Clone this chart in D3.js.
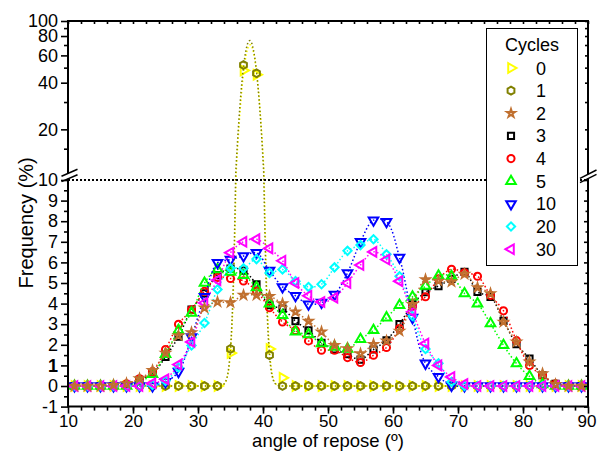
<!DOCTYPE html>
<html lang="en">
<head>
<meta charset="UTF-8">
<title>Angle of repose</title>
<script src="https://d3js.org/d3.v7.min.js"></script>
<style>
    body { margin: 0; background: #fff; }
    svg text { font-family: "Liberation Sans", Arial, sans-serif; fill: #000; }
</style>
</head>
<body>
<div id="chart"></div>
<script>
// angle bins (deg) and frequency (%) for each number of cycles
const angles = [11, 13, 15, 17, 19, 21, 23, 25, 27, 29, 31, 33, 35, 37, 39, 41, 43, 45, 47, 49,
                51, 53, 55, 57, 59, 61, 63, 65, 67, 69, 71, 73, 75, 77, 79, 81, 83, 85, 87, 89];
const cycleLabels = ['0', '1', '2', '3', '4', '5', '10', '20', '30'];

const freq0  = [0, 0, 0, 0, 0, 0, 0, 0, 0, 0, 0, 0, 1.6, 48, 45, 1.8, 0.4, 0, 0, 0,
                0, 0, 0, 0, 0, 0, 0, 0, 0, 0, 0, 0, 0, 0, 0, 0, 0, 0, 0, 0];
const freq1  = [0, 0, 0, 0, 0, 0, 0, 0, 0, 0, 0, 0, 1.8, 52, 46, 1.5, 0, 0, 0, 0,
                0, 0, 0, 0, 0, 0, 0, 0, 0, 0, 0, 0, 0, 0, 0, 0, 0, 0, 0, 0];
const freq2  = [0, 0, 0, 0.05, 0.12, 0.36, 0.76, 1.6, 2.45, 2.6, 3.79, 4.08, 4.05, 4.41, 4.41, 4.36, 4.0, 3.6, 3.15, 2.63,
                1.98, 1.82, 1.57, 2.03, 2.19, 2.67, 3.97, 5.17, 5.1, 5.06, 5.43, 4.78, 4.49, 3.11, 2.14, 1.17, 0.6, 0.08, 0, 0];
const freq3  = [0, 0, 0, 0, 0.05, 0.3, 0.6, 1.41, 2.4, 3.71, 4.5, 5.38, 5.7, 5.6, 4.93, 3.92, 3.76, 3.15, 2.7, 2.1,
                1.77, 1.54, 1.28, 1.77, 2.22, 3.0, 3.97, 4.55, 4.85, 5.2, 5.54, 4.57, 4.33, 3.16, 2.03, 1.33, 0.52, 0.1, 0, 0];
const freq4  = [0, 0, 0, 0, 0.1, 0.35, 0.7, 1.77, 3.0, 3.7, 4.6, 5.27, 5.22, 5.1, 4.6, 3.8, 3.11, 2.7, 2.19, 1.74,
                1.74, 1.38, 1.14, 1.49, 1.87, 2.79, 3.87, 4.33, 5.2, 5.67, 5.5, 5.33, 4.4, 3.65, 2.2, 1.0, 0.52, 0.1, 0, 0];
const freq5  = [0, 0, 0, 0, 0, 0.2, 0.57, 1.54, 2.7, 3.55, 5.0, 5.66, 5.54, 5.38, 4.78, 4.0, 3.43, 2.63, 2.5, 2.06,
                1.9, 1.8, 2.27, 2.71, 3.32, 3.92, 4.33, 4.85, 5.35, 5.33, 4.49, 4.0, 3.03, 1.98, 1.09, 0.47, 0.08, 0, 0, 0];
const freq10 = [0, 0, 0, 0, 0, 0, 0, 0.2, 0.7, 2.38, 4.33, 5.98, 6.14, 6.31, 6.47, 5.6, 4.81, 4.38, 3.97, 4.05,
                4.44, 5.49, 7.0, 8.05, 7.97, 6.24, 3.32, 1.1, 0.45, 0.03, 0, 0, 0, 0, 0, 0, 0, 0, 0, 0];
const freq20 = [0, 0, 0, 0, 0, 0, 0.05, 0.25, 0.9, 1.97, 3.06, 4.69, 5.71, 5.71, 6.16, 5.49, 5.66, 5.09, 4.81, 4.94,
                5.76, 6.56, 6.84, 7.12, 6.39, 5.33, 3.4, 1.8, 1.1, 0.2, 0, 0, 0, 0, 0, 0, 0, 0, 0, 0];
const freq30 = [0, 0, 0, 0, 0, 0, 0.13, 0.33, 1.04, 2.14, 4.03, 5.14, 6.47, 7.0, 7.13, 6.68, 6.08, 5.0, 4.38, 4.08,
                4.28, 5.0, 5.87, 6.51, 6.14, 5.09, 3.6, 2.06, 1.0, 0.44, 0.1, 0, 0, 0, 0, 0, 0, 0, 0, 0];

const xTicks = [10, 20, 30, 40, 50, 60, 70, 80, 90];
const yTicksLow = [-1, 0, 1, 2, 3, 4, 5, 6, 7, 8, 9, 10];
const yTicksHigh = [20, 40, 60, 80, 100];
const yMinorHigh = [15, 30, 50, 70, 90];

const width = 597, height = 451;
const plotLeft = 68, plotRight = 588, plotTop = 21, plotBottom = 406.6;

const svg = d3.select('#chart').append('svg')
    .attr('width', width)
    .attr('height', height);

// broken y axis: linear below 10, log above
const x = d3.scaleLinear().domain([10, 90]).range([plotLeft, plotRight]);
const yLow = d3.scaleLinear().domain([-1, 10]).range([plotBottom, 180]);
const yHigh = d3.scaleLog().domain([10, 100]).range([176, plotTop]);
const y = v => v > 10 ? yHigh(v) : yLow(v);

// custom hexagon symbol
const symbolHexagon = {
    draw(ctx, size) {
        const r = Math.sqrt(size / 2.598);
        for (let i = 0; i < 6; i++) {
            const a = Math.PI / 3 * i - Math.PI / 2;
            if (i === 0) ctx.moveTo(r * Math.cos(a), r * Math.sin(a));
            else ctx.lineTo(r * Math.cos(a), r * Math.sin(a));
        }
        ctx.closePath();
    }
};

const shapes = {
    triR:    {type: d3.symbolTriangle, rot: 90,  size: 40},
    hex:     {type: symbolHexagon,     rot: 0,   size: 40},
    star:    {type: d3.symbolStar,     rot: 0,   size: 20},
    square:  {type: d3.symbolSquare,   rot: 0,   size: 38},
    circle:  {type: d3.symbolCircle,   rot: 0,   size: 40},
    triU:    {type: d3.symbolTriangle, rot: 0,   size: 40},
    triD:    {type: d3.symbolTriangle, rot: 180, size: 40},
    diamond: {type: d3.symbolSquare,   rot: 45,  size: 34},
    triL:    {type: d3.symbolTriangle, rot: -90, size: 40}
};

const series = [
    {label: cycleLabels[0], values: freq0,  color: '#ffff00', shape: 'triR',    fit: true},
    {label: cycleLabels[1], values: freq1,  color: '#808000', shape: 'hex',     fit: true},
    {label: cycleLabels[2], values: freq2,  color: '#c0702f', shape: 'star'},
    {label: cycleLabels[3], values: freq3,  color: '#000000', shape: 'square'},
    {label: cycleLabels[4], values: freq4,  color: '#ff0000', shape: 'circle'},
    {label: cycleLabels[5], values: freq5,  color: '#00ff00', shape: 'triU'},
    {label: cycleLabels[6], values: freq10, color: '#0000ff', shape: 'triD'},
    {label: cycleLabels[7], values: freq20, color: '#00ffff', shape: 'diamond'},
    {label: cycleLabels[8], values: freq30, color: '#ff00ff', shape: 'triL'}
];

// gaussian fit (least squares on ln y) for the single-peak series
function gaussFit(xs, ys) {
    const pts = xs.map((v, i) => [v, ys[i]]).filter(p => p[1] >= 1);
    const x0 = d3.mean(pts, p => p[0]);
    const S = [[0, 0, 0], [0, 0, 0], [0, 0, 0]], R = [0, 0, 0];
    pts.forEach(([xv, yv]) => {
        const t = xv - x0, row = [1, t, t * t], l = Math.log(yv);
        for (let i = 0; i < 3; i++) {
            R[i] += row[i] * l;
            for (let j = 0; j < 3; j++) S[i][j] += row[i] * row[j];
        }
    });
    const det = m => m[0][0] * (m[1][1] * m[2][2] - m[1][2] * m[2][1])
                   - m[0][1] * (m[1][0] * m[2][2] - m[1][2] * m[2][0])
                   + m[0][2] * (m[1][0] * m[2][1] - m[1][1] * m[2][0]);
    const D = det(S);
    const coef = [0, 1, 2].map(k => det(S.map((row, i) => row.map((v, j) => j === k ? R[i] : v))) / D);
    return xv => {
        const t = xv - x0;
        return Math.exp(coef[0] + coef[1] * t + coef[2] * t * t);
    };
}

const pointLine = d3.line()
    .x(d => x(d[0]))
    .y(d => y(d[1]))
    .curve(d3.curveCatmullRom);
const fitLine = d3.line()
    .x(d => x(d[0]))
    .y(d => y(Math.min(d[1], 100)));

// drawing order: orange series ends up on top
const drawOrder = [0, 1, 3, 4, 5, 6, 7, 8, 2];
const plot = svg.append('g').attr('class', 'plot');

drawOrder.forEach(k => {
    const s = series[k];
    const pts = angles.map((a, i) => [a, s.values[i]]);
    const g = plot.append('g').attr('class', 'series');
    let pathData;
    if (s.fit) {
        const f = gaussFit(angles, s.values);
        pathData = fitLine(d3.range(10, 90.001, 0.1).map(a => [a, f(a)]));
    } else {
        pathData = pointLine(pts);
    }
    g.append('path')
        .attr('d', pathData)
        .attr('fill', 'none')
        .attr('stroke', s.color)
        .attr('stroke-width', 1.5)
        .attr('stroke-dasharray', '1.5,2.3');

    const sh = shapes[s.shape];
    g.selectAll('path.pt')
        .data(pts)
        .enter()
        .append('path')
        .attr('class', 'pt')
        .attr('d', d3.symbol().type(sh.type).size(sh.size))
        .attr('transform', d => `translate(${x(d[0])},${y(d[1])}) rotate(${sh.rot})`)
        .attr('fill', 'none')
        .attr('stroke', s.color)
        .attr('stroke-width', 2);
});

// dotted line at the break
svg.append('line')
    .attr('x1', plotLeft).attr('x2', plotRight)
    .attr('y1', yLow(10)).attr('y2', yLow(10))
    .attr('stroke', '#000')
    .attr('stroke-width', 2)
    .attr('stroke-dasharray', '2,2');

// axes
const styleAxis = g => {
    g.select('.domain').remove();
    g.attr('font-size', 18);
    g.selectAll('.tick line').attr('stroke-width', 1.6);
};

svg.append('g')
    .attr('transform', `translate(0,${plotBottom})`)
    .call(d3.axisBottom(x).tickValues(xTicks).tickSize(7).tickPadding(1.5).tickFormat(d => String(d)))
    .call(styleAxis)
    .attr('font-size', 17)
    .selectAll('text')
    .attr('dx', d => d === 90 ? -1.5 : 0);
svg.append('g')
    .attr('transform', `translate(0,${plotBottom})`)
    .call(d3.axisBottom(x).tickValues(d3.range(12, 90, 2)).tickSize(4).tickFormat(''))
    .call(styleAxis);

// top ticks point inward
svg.append('g')
    .attr('transform', `translate(0,${plotTop})`)
    .call(d3.axisBottom(x).tickValues(d3.range(10, 91, 2)).tickSize(3).tickFormat(''))
    .call(styleAxis);

svg.append('g')
    .attr('transform', `translate(${plotLeft},0)`)
    .call(d3.axisLeft(yLow).tickValues(yTicksLow).tickSize(7).tickPadding(3).tickFormat(d => String(d)))
    .call(styleAxis)
    .selectAll('text')
    .attr('font-weight', d => d === 1 ? 'bold' : 'normal');
svg.append('g')
    .attr('transform', `translate(${plotLeft},0)`)
    .call(d3.axisLeft(yLow).tickValues(d3.range(-0.5, 10, 1)).tickSize(4).tickFormat(''))
    .call(styleAxis);
svg.append('g')
    .attr('transform', `translate(${plotLeft},0)`)
    .call(d3.axisLeft(yHigh).tickValues(yTicksHigh).tickSize(7).tickPadding(3).tickFormat(d => String(d)))
    .call(styleAxis);
svg.append('g')
    .attr('transform', `translate(${plotLeft},0)`)
    .call(d3.axisLeft(yHigh).tickValues(yMinorHigh).tickSize(4).tickFormat(''))
    .call(styleAxis);

// right side ticks point inward
svg.append('g')
    .attr('transform', `translate(${plotRight},0)`)
    .call(d3.axisLeft(yLow).tickValues(yTicksLow).tickSize(4).tickFormat(''))
    .call(styleAxis);
svg.append('g')
    .attr('transform', `translate(${plotRight},0)`)
    .call(d3.axisLeft(yLow).tickValues(d3.range(-0.5, 10, 1)).tickSize(2.5).tickFormat(''))
    .call(styleAxis);
svg.append('g')
    .attr('transform', `translate(${plotRight},0)`)
    .call(d3.axisLeft(yHigh).tickValues(yTicksHigh.concat(yMinorHigh)).tickSize(3).tickFormat(''))
    .call(styleAxis);

// frame with gaps at the axis break
const frame = svg.append('g')
    .attr('fill', 'none')
    .attr('stroke', '#000')
    .attr('stroke-width', 2);
frame.append('path').attr('d', `M${plotLeft},173.3V${plotTop}H${plotRight}V174.3`);
frame.append('path').attr('d', `M${plotLeft},178.7V${plotBottom}H${plotRight}V178.5`);

// break marks
const breaks = svg.append('g')
    .attr('stroke', '#000')
    .attr('stroke-width', 1.5);
[[61.5, 176.2, 77.5, 169.3, 5.4], [580, 178.3, 596.5, 170, 4.4]].forEach(([x1, y1, x2, y2, off]) => {
    breaks.append('line').attr('x1', x1).attr('y1', y1).attr('x2', x2).attr('y2', y2);
    breaks.append('line').attr('x1', x1).attr('y1', y1 + off).attr('x2', x2).attr('y2', y2 + off);
});

// axis titles
svg.append('text')
    .attr('transform', `translate(33,${(plotTop + plotBottom) / 2 + 9}) rotate(-90)`)
    .attr('text-anchor', 'middle')
    .attr('font-size', 20)
    .text('Frequency (%)');
svg.append('text')
    .attr('x', (plotLeft + plotRight) / 2)
    .attr('y', 446.5)
    .attr('text-anchor', 'middle')
    .attr('font-size', 18.5)
    .text('angle of repose (º)');

// legend
const legend = svg.append('g').attr('class', 'legend');
legend.append('rect')
    .attr('x', 486.5).attr('y', 28.5)
    .attr('width', 91).attr('height', 237)
    .attr('fill', '#fff')
    .attr('stroke', '#000')
    .attr('stroke-width', 1);
legend.append('text')
    .attr('x', 532).attr('y', 51)
    .attr('text-anchor', 'middle')
    .attr('font-size', 18)
    .text('Cycles');

const items = legend.selectAll('.item')
    .data(series)
    .enter()
    .append('g')
    .attr('class', 'item')
    .attr('transform', (d, i) => `translate(511,${68 + i * 22.65})`);
items.append('path')
    .attr('d', d => d3.symbol().type(shapes[d.shape].type).size(shapes[d.shape].size)())
    .attr('transform', d => `rotate(${shapes[d.shape].rot})`)
    .attr('fill', 'none')
    .attr('stroke', d => d.color)
    .attr('stroke-width', 2);
items.append('text')
    .attr('x', 25)
    .attr('y', 6.5)
    .attr('font-size', 18)
    .text(d => d.label);
</script>
</body>
</html>
